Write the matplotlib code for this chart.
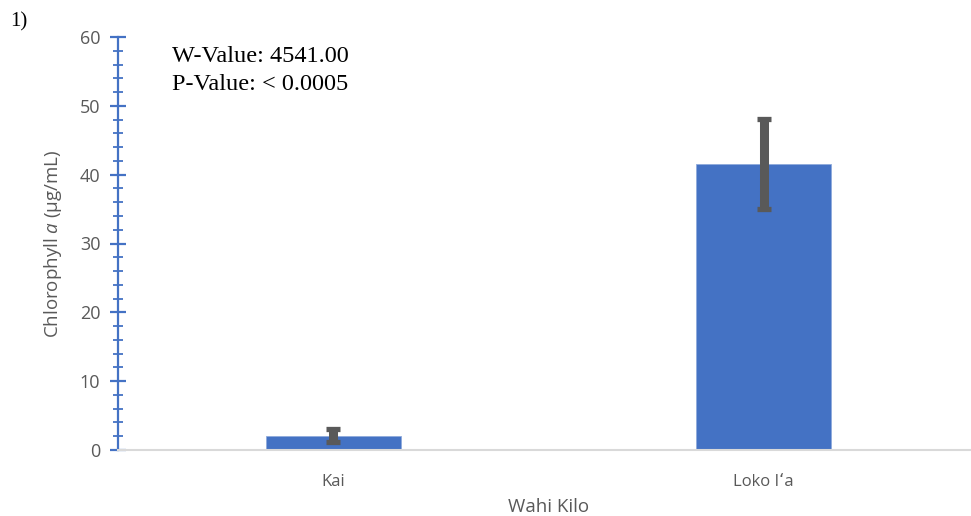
import matplotlib
matplotlib.use("Agg")
import matplotlib.pyplot as plt
from matplotlib.ticker import MultipleLocator

# chlorophyll a by site
sites = ["Kai", "Loko Iʻa"]
means = [2.1, 41.6]
errs = [0.95, 6.55]

w_text = "W-Value: 4541.00"
p_text = "P-Value: < 0.0005"

blue = "#4472C4"
grey = "#595959"
sans = ["Open Sans", "DejaVu Sans"]
narrow = ["Liberation Sans Narrow", "Open Sans", "DejaVu Sans"]

plt.rcParams['mathtext.fontset'] = 'custom'
plt.rcParams['mathtext.rm'] = 'Open Sans'
plt.rcParams['mathtext.it'] = 'Open Sans:italic'

fig = plt.figure(figsize=(9.71, 5.16), dpi=100)
ax = fig.add_axes([118/971, 1 - 450/516, 861/971, 413/516])

x = range(len(sites))
ax.bar(x, means, width=0.313, color=blue, edgecolor="#8FAADC", linewidth=0.6, zorder=2)
ax.errorbar(x, means, yerr=errs, fmt="none", ecolor=grey, elinewidth=6.5,
            capsize=4.7, capthick=3.8, zorder=3)

ax.set_xlim(-0.5, 1.5)
ax.set_ylim(0, 60)
ax.yaxis.set_major_locator(MultipleLocator(10))
ax.yaxis.set_minor_locator(MultipleLocator(2))

for s in ["top", "right"]:
    ax.spines[s].set_visible(False)
ax.spines["left"].set_color(blue)
ax.spines["left"].set_linewidth(1.6)
ax.spines["bottom"].set_color("#D9D9D9")
ax.spines["bottom"].set_linewidth(1.5)

ax.tick_params(axis="y", which="major", direction="inout", length=11.5, width=1.6,
               color=blue, labelcolor=grey, labelsize=13, pad=7)
ax.tick_params(axis="y", which="minor", direction="inout", length=7, width=1.3, color=blue)
ax.tick_params(axis="x", length=0, labelcolor=grey, labelsize=12, pad=17)

for lab in ax.get_yticklabels():
    lab.set_fontfamily(sans)
ax.set_xticks(list(x))
ax.set_xticklabels(sites, fontfamily=sans)

ax.set_xlabel("Wahi Kilo", fontfamily=sans, fontsize=13.5, color=grey, labelpad=6)
ax.set_ylabel(r"Chlorophyll $\mathit{a}$ (µg/mL)", fontfamily=narrow,
              fontsize=13.5, color=grey, labelpad=11)

ax.text(172/971, 1 - 57/516, w_text, transform=fig.transFigure, fontfamily="Liberation Serif",
        fontsize=17.5, va="center", ha="left")
ax.text(172/971, 1 - 85/516, p_text, transform=fig.transFigure, fontfamily="Liberation Serif",
        fontsize=17.5, va="center", ha="left")
fig.text(10/971, 1 - 22/516, "1)", fontfamily="Liberation Serif", fontsize=15, va="center")

fig.savefig("out.png", dpi=100)
